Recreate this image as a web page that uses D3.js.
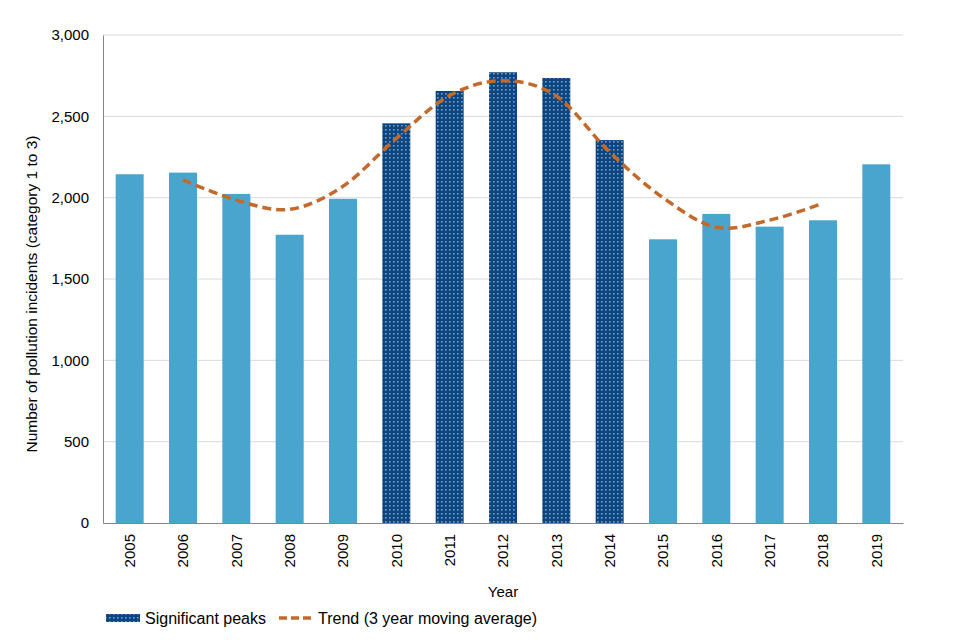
<!DOCTYPE html>
<html><head><meta charset="utf-8">
<script src="https://cdn.jsdelivr.net/npm/d3@7"></script>
<style>
body{margin:0;background:#fff;}
text{font-family:"Liberation Sans",Arial,sans-serif;}
</style></head>
<body>
<svg id="chart" width="960" height="640"></svg>
<script>
const years = ["2005","2006","2007","2008","2009","2010","2011","2012","2013","2014","2015","2016","2017","2018","2019"];
const incidents = [2144,2154,2023,1772,1993,2457,2656,2771,2736,2354,1744,1900,1822,1861,2205];
const peakYears = ["2010","2011","2012","2013","2014"];
const trendYears = ["2006","2007","2008","2009","2010","2011","2012","2013","2014","2015","2016","2017","2018"];
const trendValues = [2109,1985,1928,2070,2365,2628,2719,2625,2280,2000,1818,1862,1965];
const yTicks = [0,500,1000,1500,2000,2500,3000];

const svg = d3.select("#chart");
const L=103,R=903,T=35,B=523;
const x = d3.scaleBand().domain(years).range([L,R]).paddingInner(0.475).paddingOuter(0.2375);
const y = d3.scaleLinear().domain([0,3000]).range([B,T]);

const defs = svg.append("defs");
const pat = defs.append("pattern").attr("id","dots").attr("patternUnits","userSpaceOnUse")
  .attr("width",4).attr("height",4);
pat.append("rect").attr("width",4).attr("height",4).attr("fill","#0D467F");
pat.append("rect").attr("x",1).attr("y",1).attr("width",1.6).attr("height",1.6).attr("fill","#6F9FD0");

// gridlines
svg.append("g").selectAll("line").data(yTicks.filter(d=>d>0)).join("line")
  .attr("x1",L).attr("x2",R).attr("y1",d=>y(d)).attr("y2",d=>y(d))
  .attr("stroke","#D9D9D9").attr("stroke-width",1);

// bars
svg.append("g").selectAll("rect").data(years.map((yr,i)=>({yr,v:incidents[i]}))).join("rect")
  .attr("x",d=>x(d.yr)).attr("width",x.bandwidth())
  .attr("y",d=>y(d.v)).attr("height",d=>y(0)-y(d.v))
  .attr("fill",d=>peakYears.includes(d.yr)?"url(#dots)":"#4AA5CE");

// axes
const yAxis = d3.axisLeft(y).tickValues(yTicks).tickSize(0).tickPadding(14).tickFormat(d3.format(","));
const gy = svg.append("g").attr("transform",`translate(${L},0)`).call(yAxis);
gy.select(".domain").attr("stroke","#868686");
gy.selectAll("text").attr("font-size",15).attr("fill","#000");

const xAxis = d3.axisBottom(x).tickSize(0).tickPadding(0);
const gx = svg.append("g").attr("transform",`translate(0,${B})`).call(xAxis);
gx.select(".domain").attr("stroke","#868686");
gx.selectAll("text").attr("font-size",15).attr("fill","#000")
  .attr("transform","rotate(-90)").attr("text-anchor","end")
  .attr("x",-11).attr("y",0).attr("dy","0.35em");

// trend line
const line = d3.line().x((d,i)=>x(trendYears[i])+x.bandwidth()/2).y(d=>y(d)).curve(d3.curveCardinal.tension(0));
svg.append("path").datum(trendValues).attr("d",line)
  .attr("fill","none").attr("stroke","#C4692C").attr("stroke-width",3.5)
  .attr("stroke-dasharray","9,5");

// axis titles
svg.append("text").attr("x",503).attr("y",597).attr("text-anchor","middle").attr("font-size",15).text("Year");
svg.append("text").attr("transform",`translate(37,294) rotate(-90)`).attr("text-anchor","middle")
  .attr("font-size",15.5).text("Number of pollution incidents (category 1 to 3)");

// legend
const lg = svg.append("g");
lg.append("rect").attr("x",106).attr("y",614).attr("width",34).attr("height",8).attr("fill","url(#dots)");
lg.append("text").attr("x",145).attr("y",624).attr("font-size",16).text("Significant peaks");
lg.append("line").attr("x1",279).attr("x2",311).attr("y1",618).attr("y2",618)
  .attr("stroke","#C4692C").attr("stroke-width",3.5).attr("stroke-dasharray","8,4");
lg.append("text").attr("x",318).attr("y",624).attr("font-size",16).text("Trend (3 year moving average)");
</script>
</body></html>
